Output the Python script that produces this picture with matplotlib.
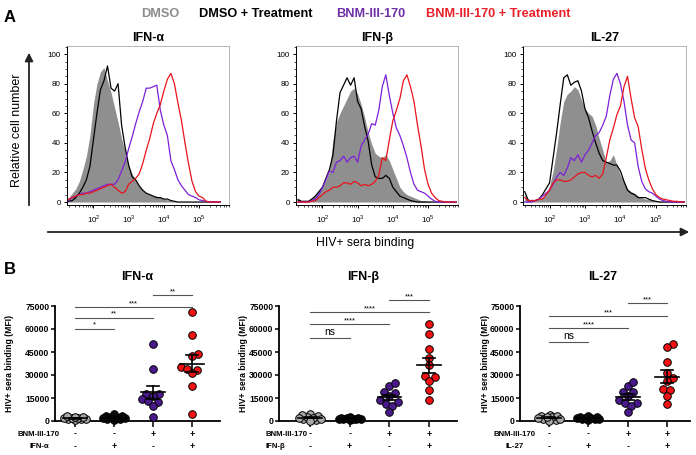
import numpy as np
import matplotlib.pyplot as plt
from matplotlib.ticker import FixedLocator, LogLocator, MultipleLocator, NullFormatter

plt.rcParams['font.family'] = ['Liberation Sans', 'DejaVu Sans']
plt.rcParams['mathtext.fontset'] = 'custom'
plt.rcParams['mathtext.rm'] = 'Liberation Sans'

W, H = 696, 455

# ---------------- Panel A data: log10 intensity positions, relative cell number
# IFN-a panel was read against its own frame, so it has its own positions
log_pos_a = [1.1, 1.2, 1.3, 1.4, 1.5, 1.6, 1.7, 1.8, 1.9, 2.0,
             2.1, 2.2, 2.3, 2.4, 2.5, 2.6, 2.7, 2.8, 2.9, 3.0,
             3.1, 3.2, 3.3, 3.4, 3.5, 3.6, 3.7, 3.8, 3.9, 4.0,
             4.1, 4.2, 4.3, 4.4, 4.5, 4.6, 4.7, 4.8, 4.9, 5.0,
             5.1, 5.2, 5.3, 5.4, 5.5, 5.6]
log_pos = [1.3, 1.4, 1.5, 1.6, 1.7, 1.8, 1.9, 2.0, 2.1, 2.2,
           2.3, 2.4, 2.5, 2.6, 2.7, 2.8, 2.9, 3.0, 3.1, 3.2,
           3.3, 3.4, 3.5, 3.6, 3.7, 3.8, 3.9, 4.0, 4.1, 4.2,
           4.3, 4.4, 4.5, 4.6, 4.7, 4.8, 4.9, 5.0, 5.1, 5.2,
           5.3, 5.4, 5.5, 5.6, 5.7, 5.8]

ifna_dmso = [0, 1, 3, 6, 9, 14, 22, 31, 45, 66,
             80, 88, 91, 82, 74, 64, 54, 43, 34, 25,
             19, 15, 11, 8, 6, 5, 4, 4, 3, 2,
             1.5, 1, 0.5, 0, 0, 0, 0, 0, 0, 0,
             0, 0, 0, 0, 0, 0]
ifna_dmso_trt = [0, 0, 0.5, 1, 3, 6, 10, 15, 24, 42,
                 60, 76, 82, 92, 77, 75, 80, 52, 37, 25,
                 17, 15, 11, 8, 6, 5, 4, 3, 3, 2,
                 2, 1, 0.5, 0, 0, 0, 0, 0, 0, 0,
                 0, 0, 0, 0, 0, 0]
ifna_bnm = [0, 0, 1, 3, 4, 5, 6, 6, 7, 8,
            9, 10, 11, 12, 12, 12, 15, 21, 27, 36,
            44, 53, 61, 68, 77, 77, 78, 79, 62, 52,
            45, 28, 22, 15, 11, 8, 5, 4, 3, 1.5,
            1, 0.5, 0, 0, 0, 0]
ifna_bnm_trt = [0, 0.5, 2, 3, 4, 5, 5, 6, 6, 7,
                8, 9, 10, 11, 12, 10, 8, 6, 7, 12,
                14, 16, 19, 26, 35, 43, 53, 60, 66, 75,
                83, 87, 80, 67, 55, 40, 26, 14, 7, 4,
                3, 0.5, 0, 0, 0, 0]

ifnb_dmso = [3, 1, 1, 1, 3, 5, 8, 11, 15, 21,
             42, 54, 60, 65, 70, 75, 77, 73, 66, 57,
             47, 39, 33, 31, 30, 32, 28, 22, 16, 10,
             7, 5, 4, 3, 2, 1, 1, 0.5, 0, 0,
             0, 0, 0, 0, 0, 0]
ifnb_dmso_trt = [1.5, 0.5, 0.5, 0.5, 2, 4, 7, 10, 16, 22,
                 32, 55, 74, 79, 84, 79, 84, 68, 63, 51,
                 41, 25, 17, 16, 16, 18, 16, 10, 7, 4,
                 3, 2, 1, 0.5, 0, 0, 0, 0, 0, 0,
                 0, 0, 0, 0, 0, 0]
ifnb_bnm = [0, 0, 0, 0, 1, 2, 5, 10, 15, 21,
            20, 27, 28, 31, 27, 30, 31, 27, 38, 42,
            46, 53, 52, 62, 78, 86, 72, 60, 50, 45,
            38, 30, 20, 12, 8, 7, 6, 4, 2, 0.5,
            0, 0, 0, 0, 0, 0]
ifnb_bnm_trt = [0, 0, 0, 0, 0.5, 1, 3, 5, 7, 8,
                10, 10, 11, 13, 13, 12, 14, 13, 11, 12,
                11, 12, 14, 18, 30, 28, 42, 55, 62, 70,
                82, 86, 78, 68, 52, 38, 22, 12, 6, 3,
                1, 0.5, 0, 0, 0, 0]

il27_dmso = [5, 2, 1, 1, 2, 3, 6, 11, 21, 36,
             54, 68, 73, 75, 78, 76, 69, 63, 60, 58,
             52, 43, 35, 27, 28, 32, 25, 18, 14, 9,
             7, 6, 4, 3, 2, 2, 1, 1, 0.5, 0,
             0, 0, 0, 0, 0, 0]
il27_dmso_trt = [7, 1, 1, 1, 2, 5, 9, 13, 30, 47,
                 66, 84, 86, 79, 81, 82, 75, 63, 57, 48,
                 40, 33, 28, 27, 26, 25, 25, 21, 14, 8,
                 6, 5, 3, 3, 3, 2, 1, 0.5, 0, 0,
                 0, 0, 0, 0, 0, 0]
il27_bnm = [0, 0, 0, 1, 2, 4, 6, 8, 12, 17,
            20, 18, 23, 30, 28, 32, 27, 32, 35, 40,
            45, 47, 52, 58, 72, 83, 87, 80, 68, 52,
            42, 40, 24, 14, 9, 7, 6, 4, 2, 1,
            0.5, 0, 0, 0, 0, 0]
il27_bnm_trt = [3, 1, 1, 1, 2, 2, 5, 8, 13, 15,
                15, 14, 14, 15, 17, 19, 20, 20, 18, 17,
                18, 16, 19, 30, 42, 50, 59, 65, 78, 85,
                70, 57, 51, 36, 23, 15, 9, 5, 3, 2,
                1.5, 1, 0.5, 0.5, 0, 0]

x_ticks = [1e2, 1e3, 1e4, 1e5]
x_tick_labels = [r'$10^{2}$', r'$10^{3}$', r'$10^{4}$', r'$10^{5}$']
hist_titles = ['IFN-α', 'IFN-β', 'IL-27']

legend_labels = ['DMSO', 'DMSO + Treatment', 'BNM-III-170', 'BNM-III-170 + Treatment']

# ---------------- Panel B data: HIV+ sera binding (MFI), n = 10 per group
groups = [1, 2, 3, 4]
bnm_row = ['-', '-', '+', '+']
trt_row = ['-', '+', '-', '+']
mfi_ticks = [0, 15000, 30000, 45000, 60000, 75000]

ifna_mfi = [
    [500, 1000, 1200, 1500, 1800, 2000, 2200, 2500, 2800, 3000],
    [800, 1200, 1500, 1800, 2000, 2200, 2500, 3000, 3500, 4300],
    [49900, 33600, 17400, 17400, 16400, 14600, 13100, 12400, 9800, 2600],
    [70900, 56000, 44000, 42700, 35000, 34000, 33500, 31000, 22700, 4400],
]
ifnb_mfi = [
    [3100, 4400, 1500, 900, 2200, 2600, 3700, 200, 1500, 2200],
    [800, 1000, 1200, 1300, 1500, 1600, 1800, 2000, 2200, 2500],
    [22700, 24900, 18300, 18800, 16400, 13500, 12400, 11300, 9800, 5900],
    [63200, 56500, 46700, 41000, 36200, 29400, 28800, 26200, 20500, 13500],
]
il27_mfi = [
    [3500, 4200, 1200, 800, 2500, 2000, 3000, 300, 1500, 2800],
    [900, 1100, 1300, 1500, 1700, 1900, 2100, 2400, 2700, 3200],
    [23100, 25500, 19000, 18800, 16100, 13500, 12000, 11600, 9800, 5900],
    [50500, 48000, 38500, 31000, 28000, 26000, 21000, 20000, 16000, 11000],
]

# significance brackets: (group from, group to, height, label)
ifna_sig = [(1, 2, 60200, '*'), (1, 3, 67400, '**'), (1, 4, 74300, '***'), (3, 4, 82200, '**')]
ifnb_sig = [(1, 2, 54100, 'ns'), (1, 3, 63000, '****'), (1, 4, 70900, '****'), (3, 4, 78700, '***')]
il27_sig = [(1, 2, 51200, 'ns'), (1, 3, 60400, '****'), (1, 4, 68200, '***'), (3, 4, 77000, '***')]

# ---------------- colours
fill_gray = '#8f8f8f'
hist_purple = '#7d20d8'
hist_red = '#e8141c'
dot_colors = ['#a8a8a8', '#0a0a0a', '#4a1a8c', '#f01212']


fig = plt.figure(figsize=(W / 100, H / 100), dpi=100)


def px_axes(l, t, r, b):
    return fig.add_axes([l / W, 1 - b / H, (r - l) / W, (b - t) / H])


ov = fig.add_axes([0, 0, 1, 1])
ov.set_xlim(0, W)
ov.set_ylim(H, 0)
ov.axis('off')

# ---- top legend and panel letters
ov.text(4, 17, 'A', fontsize=12, fontweight='bold', va='center')
ov.text(4, 270, 'B', fontsize=12, fontweight='bold', va='center')
leg_x = [160, 256, 371, 498]
leg_c = ['#8c8c8c', '#000000', '#7030a8', '#e8202a']
for lx, lab, c in zip(leg_x, legend_labels, leg_c):
    ov.text(lx, 14, lab, fontsize=9.2, fontweight='bold', color=c, ha='center', va='center')

# ---- big axis arrows for panel A
ov.annotate('', xy=(29, 50), xytext=(29, 208),
            arrowprops=dict(arrowstyle='-|>', lw=1.3, color='#222222', mutation_scale=12))
ov.annotate('', xy=(692, 232), xytext=(45, 232),
            arrowprops=dict(arrowstyle='-|>', lw=1.3, color='#222222', mutation_scale=12))
ov.text(17, 130, 'Relative cell number', fontsize=9, rotation=90, ha='center', va='center')
ov.text(365, 243, 'HIV+ sera binding', fontsize=8.8, ha='center', va='center')


def hist_panel(rect, title, pos, dmso, dmso_trt, bnm, bnm_trt):
    ax = px_axes(*rect)
    xs = 10 ** np.array(pos)
    ax.fill_between(xs, 0, dmso, color=fill_gray, lw=0)
    ax.plot(xs, dmso_trt, color='black', lw=0.9)
    ax.plot(xs, bnm, color=hist_purple, lw=0.9)
    ax.plot(xs, bnm_trt, color=hist_red, lw=0.9)
    ax.set_xscale('log')
    ax.set_xlim(10 ** 1.25, 10 ** 5.85)
    ax.set_ylim(-2, 105.5)
    ax.xaxis.set_major_locator(FixedLocator(x_ticks))
    ax.set_xticklabels(x_tick_labels)
    ax.xaxis.set_minor_locator(LogLocator(base=10, subs=np.arange(2, 10), numticks=20))
    ax.xaxis.set_minor_formatter(NullFormatter())
    ax.yaxis.set_major_locator(MultipleLocator(20))
    ax.yaxis.set_minor_locator(MultipleLocator(5))
    ax.tick_params(axis='both', which='major', labelsize=5.8, length=2.5, width=0.7, pad=2)
    ax.tick_params(axis='x', which='major', pad=3)
    ax.tick_params(axis='both', which='minor', length=1.5, width=0.5)
    for s in ['top', 'right']:
        ax.spines[s].set_color('#9a9a9a')
        ax.spines[s].set_linewidth(0.5)
    for s in ['left', 'bottom']:
        ax.spines[s].set_linewidth(0.7)
    cx = (rect[0] + rect[2]) / 2
    ov.text(cx, 38, title, fontsize=9, fontweight='bold', ha='center', va='center')
    return ax


hist_panel((67, 46, 229, 205), hist_titles[0], log_pos_a, ifna_dmso, ifna_dmso_trt, ifna_bnm, ifna_bnm_trt)
hist_panel((296, 46, 458, 205), hist_titles[1], log_pos, ifnb_dmso, ifnb_dmso_trt, ifnb_bnm, ifnb_bnm_trt)
hist_panel((523, 46, 686, 205), hist_titles[2], log_pos, il27_dmso, il27_dmso_trt, il27_bnm, il27_bnm_trt)


def swarm_offsets(vals, y_px_per_unit, x_px_per_unit, diam=6.5, cap=11.0):
    # deterministic beeswarm, spread capped so crowded groups overlap like GraphPad
    order = np.argsort(vals)
    placed = []
    offs = np.zeros(len(vals))
    cands = sorted(np.arange(-cap, cap + 0.01, 0.5), key=lambda v: (abs(v), -v))
    for i in order:
        y = vals[i] * y_px_per_unit
        best, best_d = 0.0, -1.0
        for s in cands:
            d = min([np.hypot(s - px, y - py) for px, py in placed] + [99.0])
            if d >= diam:
                best = s
                break
            if d > best_d:
                best, best_d = s, d
        placed.append((best, y))
        offs[i] = best / x_px_per_unit
    return offs


def dot_panel(rect, xlim, data, sig, title, title_x, ylab_x, row2_label, row_x):
    l, t, r, b = rect
    ax = px_axes(*rect)
    ax.set_xlim(*xlim)
    ax.set_ylim(0, 75000)
    xppu = (r - l) / (xlim[1] - xlim[0])
    yppu = (b - t) / 75000
    for g, vals, c in zip(groups, data, dot_colors):
        vals = np.array(vals, dtype=float)
        offs = swarm_offsets(vals, yppu, xppu)
        ax.scatter(g + offs, vals, s=30, color=c, edgecolor='black', lw=0.7,
                   zorder=3, clip_on=False)
        m = vals.mean()
        sem = vals.std(ddof=1) / np.sqrt(len(vals))
        ax.plot([g - 0.3, g + 0.3], [m, m], color='black', lw=1.2, zorder=4)
        ax.plot([g, g], [m - sem, m + sem], color='black', lw=1.2, zorder=4)
        for yy in (m - sem, m + sem):
            ax.plot([g - 0.15, g + 0.15], [yy, yy], color='black', lw=1.2, zorder=4)
    for g1, g2, yb, lab in sig:
        ax.plot([g1, g2], [yb, yb], color='#555555', lw=0.8, clip_on=False)
        if lab == 'ns':
            ax.text((g1 + g2) / 2, yb + 4200, lab, fontsize=7.5, ha='center', va='center')
        else:
            ax.text((g1 + g2) / 2, yb + 2300, lab, fontsize=5.5, ha='center', va='center')
    ax.set_yticks(mfi_ticks)
    ax.set_yticklabels([str(v) for v in mfi_ticks], fontweight='bold')
    ax.set_xticks(groups)
    ax.set_xticklabels([])
    ax.tick_params(axis='y', labelsize=6.2, length=3, width=1.1, pad=1)
    ax.tick_params(axis='x', length=4, width=1.1)
    for s in ['top', 'right']:
        ax.spines[s].set_visible(False)
    for s in ['left', 'bottom']:
        ax.spines[s].set_linewidth(1.3)
    tr = ax.get_xaxis_transform()
    for g, a, bb in zip(groups, bnm_row, trt_row):
        ax.text(g, -(434 - b) / (b - t), a, transform=tr, fontsize=6.5,
                fontweight='bold', ha='center', va='center', clip_on=False)
        ax.text(g, -(447 - b) / (b - t), bb, transform=tr, fontsize=6.5,
                fontweight='bold', ha='center', va='center', clip_on=False)
    ov.text(row_x[0], 434, 'BNM-III-170', fontsize=5.6, fontweight='bold', ha='left', va='center')
    ov.text(row_x[1], 447, row2_label, fontsize=5.6, fontweight='bold', ha='left', va='center')
    ov.text(title_x, 277, title, fontsize=9, fontweight='bold', ha='center', va='center')
    ov.text(ylab_x, 363, 'HIV+ sera binding (MFI)', fontsize=6.2, fontweight='bold',
            rotation=90, ha='center', va='center')
    return ax


dot_panel((55, 306, 220, 421), (0.487, 4.72), ifna_mfi, ifna_sig, 'IFN-α', 137, 10, 'IFN-α', (18, 30))
dot_panel((279, 306, 457, 421), (0.22, 4.70), ifnb_mfi, ifnb_sig, 'IFN-β', 363, 243, 'IFN-β', (265, 266))
dot_panel((520, 306, 690, 421), (0.26, 4.58), il27_mfi, il27_sig, 'IL-27', 603, 485, 'IL-27', (493, 505))

fig.savefig('out.png', dpi=100)
